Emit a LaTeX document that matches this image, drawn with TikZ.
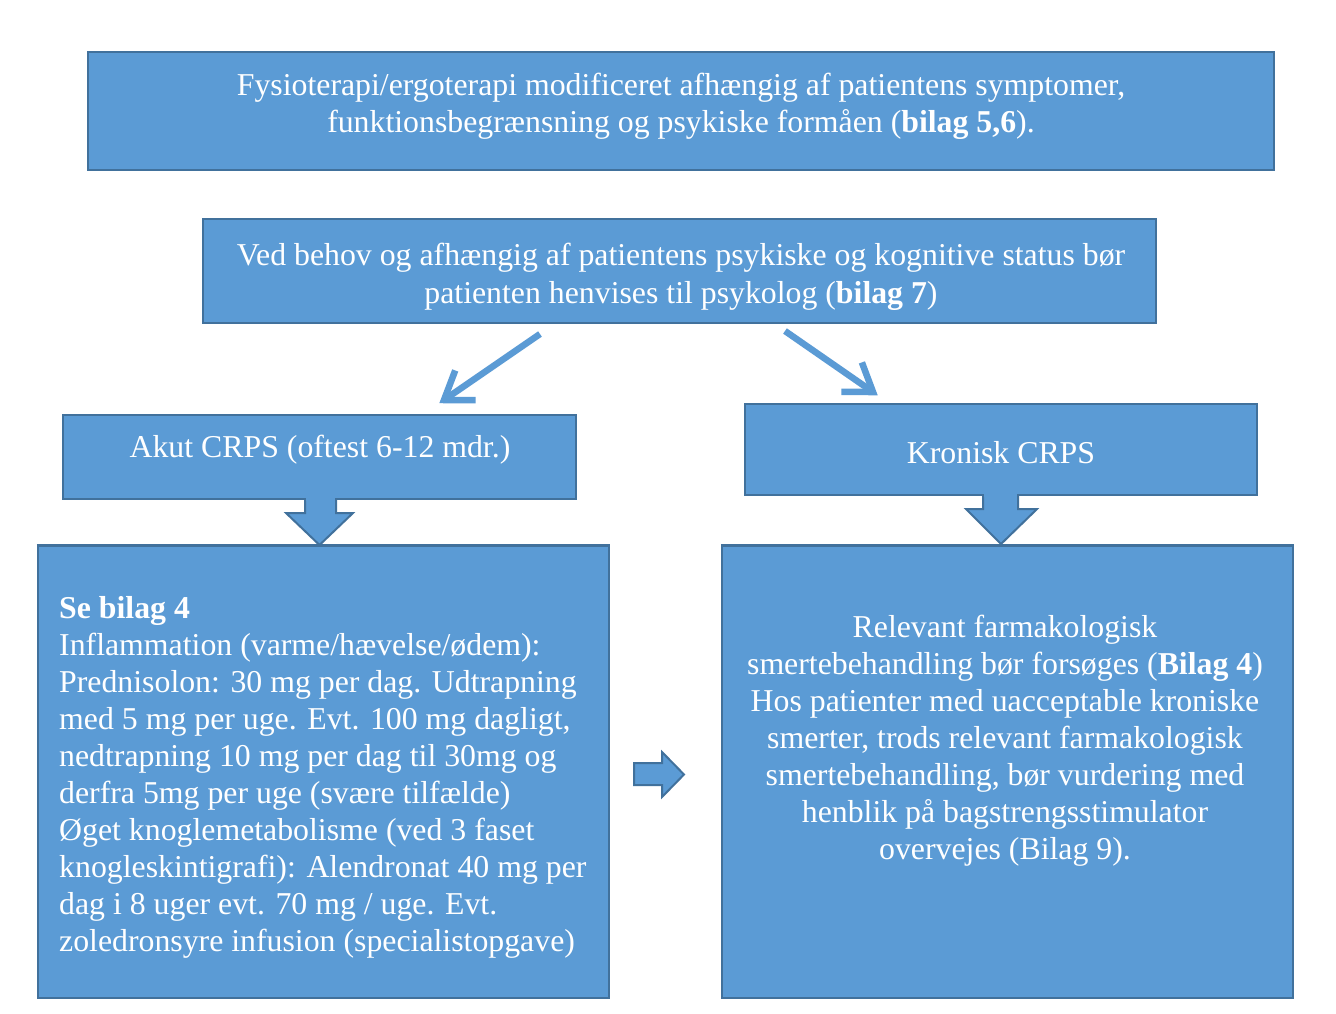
\documentclass[tikz,border=0pt]{standalone}
\usepackage{fontspec}
\setmainfont{Liberation Serif}
\usetikzlibrary{arrows.meta,calc}
\definecolor{boxfill}{HTML}{5B9BD5}
\definecolor{boxline}{HTML}{41719C}
\begin{document}
\begin{tikzpicture}[x=1pt,y=-1pt,
  box/.style={draw=boxline, fill=boxfill, line width=2.5pt, inner sep=0pt},
  txt/.style={text=white, font=\fontsize{31.8}{37}\selectfont, align=center, inner sep=0pt},
  conn/.style={draw=boxfill, line width=6.5pt},
  barb/.style={draw=boxfill, line width=6.5pt, line join=miter, line cap=butt},
  blockarrow/.style={draw=boxline, fill=boxfill, line width=2pt, line join=miter}]
\useasboundingbox (0,0) rectangle (1336,1014);
\fill[white] (0,0) rectangle (1336,1014);
% boxes
\node[box, minimum width=1186pt, minimum height=118pt] (b1) at (681,111) {};
\node[box, minimum width=953pt, minimum height=104pt] (b2) at (679.5,271) {};
\node[box, minimum width=513pt, minimum height=84pt] (b3) at (319.5,457) {};
\node[box, minimum width=512pt, minimum height=91pt] (b4) at (1001,449.5) {};
\node[box, minimum width=571pt, minimum height=452pt] (b5) at (323.5,772) {};
\node[box, minimum width=571pt, minimum height=452pt] (b6) at (1007.5,772) {};
% texts
\node[txt] (t1) at (681,106.5) {Fysioterapi/ergoterapi modificeret afhængig af patientens symptomer,\\funktionsbegrænsning og psykiske formåen (\textbf{bilag 5,6}).};
\node[txt, font=\fontsize{31.8}{38}\selectfont] (t2) at (681,277) {Ved behov og afhængig af patientens psykiske og kognitive status bør\\patienten henvises til psykolog (\textbf{bilag 7})};
\node[txt] (t3) at (320,450) {Akut CRPS (oftest 6-12 mdr.)};
\node[txt] (t4) at (1001,453) {Kronisk CRPS};
\node[txt, align=left, anchor=west] (t5) at (59,777.5) {\textbf{Se bilag 4}\\Inflammation (varme/hævelse/ødem):\\Prednisolon: 30 mg per dag. Udtrapning\\med 5 mg per uge. Evt. 100 mg dagligt,\\nedtrapning 10 mg per dag til 30mg og\\derfra 5mg per uge (svære tilfælde)\\Øget knoglemetabolisme (ved 3 faset\\knogleskintigrafi): Alendronat 40 mg per\\dag i 8 uger evt. 70 mg / uge. Evt.\\zoledronsyre infusion (specialistopgave)};
\node[txt] (t6) at (1005,741) {Relevant farmakologisk\\smertebehandling bør forsøges (\textbf{Bilag 4})\\Hos patienter med uacceptable kroniske\\smerter, trods relevant farmakologisk\\smertebehandling, bør vurdering med\\henblik på bagstrengsstimulator\\overvejes (Bilag 9).};
% thin arrows
\coordinate (a1s) at (540,334);
\coordinate (a1e) at (444,400);
\coordinate (a2s) at (785,331);
\coordinate (a2e) at (873,392);
\coordinate (h1) at ($(a1e)!26pt!(a1s)$);
\coordinate (h1l) at ($(h1)!18pt!90:(a1e)$);
\coordinate (h1r) at ($(h1)!18pt!-90:(a1e)$);
\coordinate (h2) at ($(a2e)!26pt!(a2s)$);
\coordinate (h2l) at ($(h2)!18pt!90:(a2e)$);
\coordinate (h2r) at ($(h2)!18pt!-90:(a2e)$);
\draw[conn] (a1s) -- (a1e);
\draw[barb] (h1l) -- (a1e) -- (h1r);
\draw[conn] (a2s) -- (a2e);
\draw[barb] (h2l) -- (a2e) -- (h2r);
% block arrows
\draw[blockarrow] (305,499) -- (336,499) -- (336,513) -- (353,513) -- (319.5,545) -- (286,513) -- (305,513) -- cycle;
\draw[blockarrow] (983,495) -- (1018,495) -- (1018,509) -- (1037,509) -- (1001,544) -- (966,509) -- (983,509) -- cycle;
\draw[blockarrow] (634,763) -- (662,763) -- (662,752) -- (684,774.5) -- (662,797) -- (662,785) -- (634,785) -- cycle;
% redraw box edges where block arrows meet
\draw[boxline, line width=2.5pt] (b5.north west) -- (b5.north east);
\draw[boxline, line width=2.5pt] (b6.north west) -- (b6.north east);
\fill[boxfill] (306,497) rectangle (335,501);
\fill[boxfill] (984,493) rectangle (1017,497);
\end{tikzpicture}
\end{document}
